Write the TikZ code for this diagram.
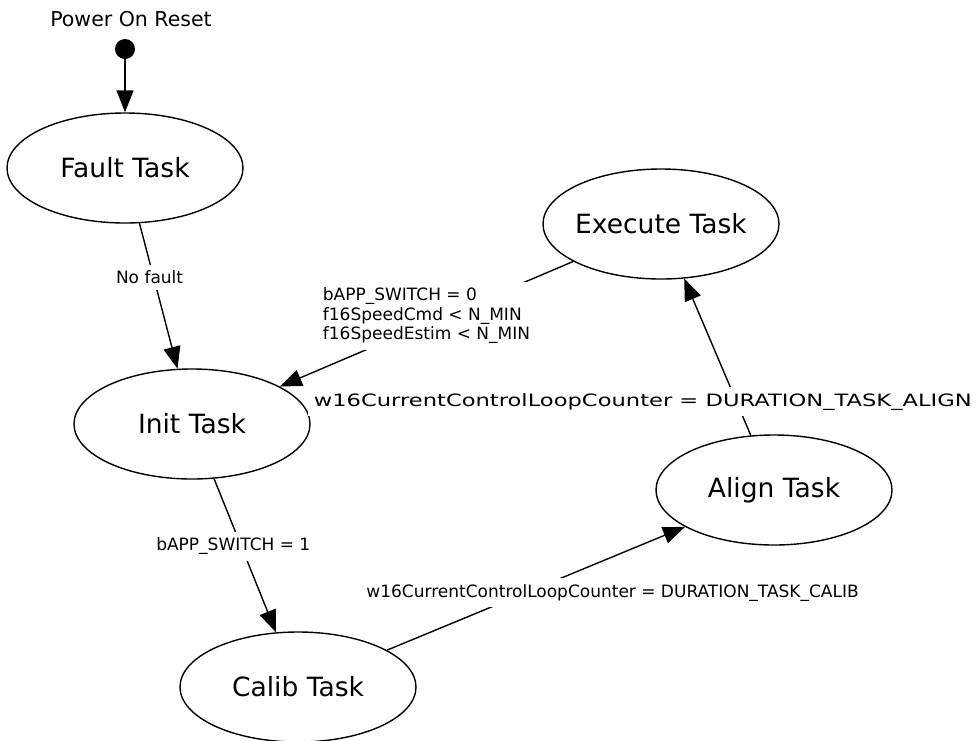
\documentclass[tikz,border=0pt]{standalone}
\usepackage{graphicx}
\usepackage{fontspec}
\setmainfont{DejaVu Sans}
\usetikzlibrary{shapes.geometric,arrows.meta}

\begin{document}
\begin{tikzpicture}[x=1pt,y=-1pt,
    task/.style={ellipse,draw,line width=1.4pt,minimum width=236pt,minimum height=110pt,inner ysep=0pt,inner xsep=-10pt,font=\fontsize{26.5}{31}\selectfont},
    trans/.style={line width=1.4pt,-{Triangle[length=22pt,width=17pt]}},
    guard/.style={fill=white,inner sep=6pt,align=left,font=\fontsize{17}{19.5}\selectfont}]
    \useasboundingbox (0,0) rectangle (980,740);

    % initial state
    \node[font=\fontsize{20.5}{24}\selectfont] (por) at (131,19) {Power On Reset};
    \node[circle,fill,minimum size=20pt,inner sep=0pt] (start) at (125,49) {};

    % tasks
    \node[task] (fault) at (125,168) {Fault Task};
    \node[task] (execute) at (661,224) {Execute Task};
    \node[task] (init) at (192,424) {Init Task};
    \node[task] (align) at (774,490) {Align Task};
    \node[task] (calib) at (298,687) {Calib Task};

    % transitions
    \draw[trans] (start) -- (fault);
    \draw[trans] (fault) -- node[guard,pos=0.37,xshift=-4pt] {No fault} (init);
    \draw[trans] (execute) -- node[guard,pos=0.5,yshift=8pt] {bAPP\_SWITCH = 0\\f16SpeedCmd < N\_MIN\\f16SpeedEstim < N\_MIN} (init);
    \draw[trans] (init) -- node[guard,pos=0.44,xshift=-8pt] {bAPP\_SWITCH = 1} (calib);
    \draw[trans] (calib) -- node[guard,pos=0.757,yshift=-36pt] {w16CurrentControlLoopCounter = DURATION\_TASK\_CALIB} (align);
    \draw[trans] (align) -- node[guard,pos=0.24,xshift=-92pt,yshift=-4pt] {\scalebox{1.33}[1]{w16CurrentControlLoopCounter = DURATION\_TASK\_ALIGN}} (execute);

\end{tikzpicture}
\end{document}
